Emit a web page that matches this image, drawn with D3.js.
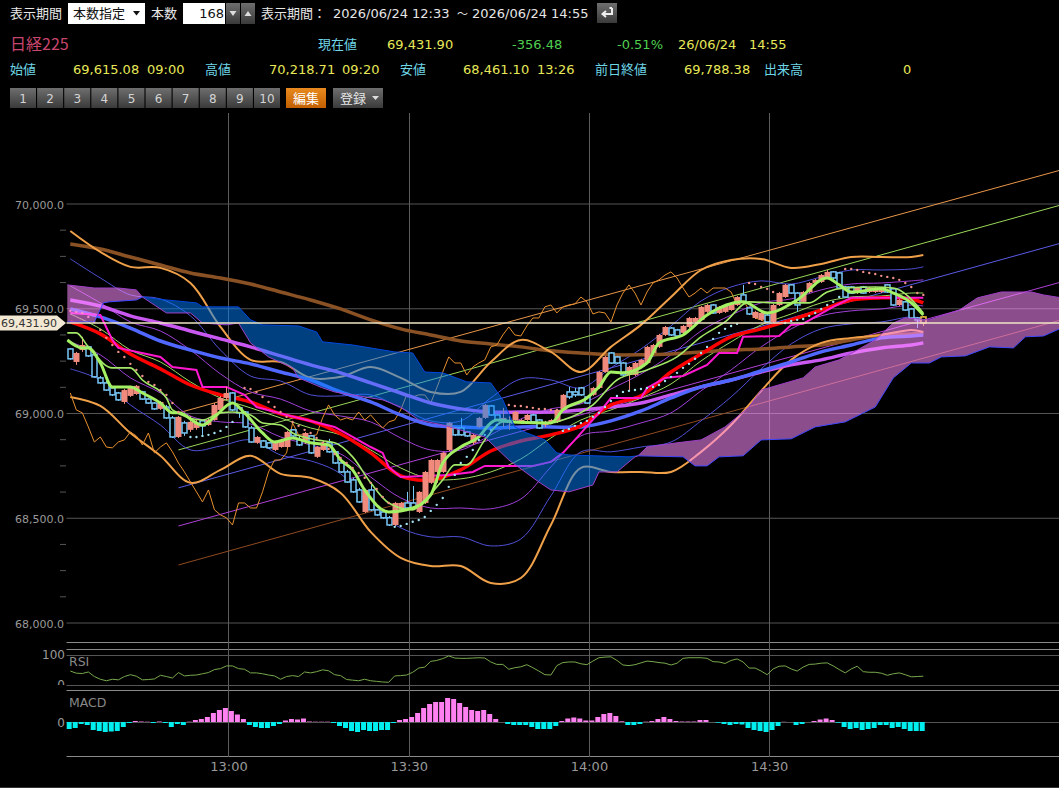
<!DOCTYPE html>
<html>
<head>
<meta charset="utf-8">
<title>日経225</title>
<script src="https://cdn.jsdelivr.net/npm/d3@7/dist/d3.min.js"></script>
<style>
  html, body { margin: 0; padding: 0; background: #000; overflow: hidden; }
  svg { display: block; }
  text { font-family: "DejaVu Sans", "Noto Sans CJK JP", sans-serif; }
  .jp { font-family: "Noto Sans CJK JP", sans-serif; }
</style>
</head>
<body>
<svg id="chart" width="1059" height="788"></svg>
<script>
// 1 minute bars, index 0 = 12:33, index 142 = 14:55
const candleOpen = [69308,69246,69303,69318,69280,69170,69146,69122,69098,69055,69084,69093,69103,69069,69050,69022,69031,68979,68888,68955,68922,68931,68965,68945,68969,69017,69074,69098,69027,69007,68931,68860,68869,68860,68826,68840,68840,68922,68874,68864,68893,68793,68826,68860,68817,68764,68721,68683,68635,68530,68635,68540,68530,68502,68468,68540,68573,68573,68530,68573,68669,68721,68721,68826,68931,68931,68912,68860,68936,68979,69036,68993,68960,68960,68969,68960,68969,68993,68969,68945,68955,68960,69017,69103,69103,69122,69079,69089,69122,69198,69289,69270,69241,69184,69184,69222,69241,69289,69318,69375,69408,69399,69385,69413,69437,69447,69485,69518,69480,69485,69494,69518,69566,69504,69456,69447,69470,69437,69518,69556,69614,69575,69533,69580,69623,69628,69647,69676,69671,69604,69604,69575,69604,69580,69580,69580,69614,69595,69518,69533,69499,69456,69461];
const candleHigh = [69313,69294,69366,69323,69284,69179,69155,69127,69103,69117,69132,69136,69108,69074,69055,69060,69041,68988,68988,68965,68988,68969,68969,68979,69050,69084,69127,69103,69031,69012,68941,68893,68874,68864,68869,68879,68917,68926,68893,68912,68898,68845,68869,68879,68821,68769,68731,68693,68645,68640,68673,68545,68535,68511,68578,68578,68626,68654,68630,68726,68783,68783,68817,68960,68936,68979,68917,68903,68984,69046,69041,68998,69027,68988,69012,68974,68998,68998,68974,68965,68974,69022,69093,69127,69122,69127,69084,69127,69203,69275,69294,69275,69246,69227,69246,69261,69323,69332,69380,69418,69413,69404,69423,69461,69461,69513,69523,69523,69513,69523,69528,69561,69614,69509,69490,69485,69475,69523,69580,69618,69618,69580,69585,69628,69642,69666,69685,69680,69676,69609,69609,69604,69609,69604,69604,69604,69618,69599,69547,69537,69504,69461,69465];
const candleLow = [69256,69232,69294,69270,69170,69141,69108,69084,69060,69046,69079,69089,69065,69046,69017,69017,68974,68883,68883,68893,68912,68922,68898,68941,68965,69012,69065,69012,68979,68931,68860,68855,68836,68831,68821,68836,68836,68883,68845,68855,68807,68788,68821,68812,68759,68716,68669,68621,68573,68525,68535,68511,68497,68463,68463,68530,68540,68540,68525,68568,68664,68669,68716,68821,68893,68893,68888,68850,68931,68974,68988,68965,68936,68922,68965,68950,68965,68950,68926,68936,68950,68955,69012,69069,69079,69084,69046,69084,69117,69194,69237,69237,69179,69112,69179,69218,69237,69280,69313,69370,69370,69366,69380,69408,69432,69442,69480,69475,69475,69480,69490,69513,69528,69470,69451,69442,69432,69432,69513,69552,69571,69485,69528,69575,69618,69623,69642,69642,69595,69552,69571,69571,69571,69575,69575,69575,69575,69513,69513,69490,69451,69408,69418];
const candleClose = [69261,69289,69327,69275,69175,69146,69112,69089,69065,69112,69127,69132,69069,69050,69022,69055,68979,68888,68984,68907,68960,68955,68941,68969,69041,69074,69098,69017,69003,68936,68864,68888,68840,68836,68864,68874,68912,68893,68850,68907,68812,68840,68860,68817,68764,68721,68673,68626,68578,68635,68540,68516,68502,68468,68573,68573,68549,68549,68626,68721,68778,68778,68812,68955,68898,68898,68893,68898,68979,69041,68993,68969,68979,68969,69007,68969,68993,68960,68931,68960,68969,69017,69089,69079,69089,69089,69050,69122,69198,69270,69241,69241,69184,69222,69241,69256,69318,69327,69375,69413,69375,69370,69418,69456,69456,69509,69518,69480,69509,69518,69523,69556,69533,69475,69485,69480,69437,69518,69575,69614,69575,69518,69580,69623,69638,69661,69676,69647,69599,69556,69575,69599,69575,69599,69599,69599,69580,69518,69542,69494,69456,69447,69431.9];

// sampled every 5 minutes
const lineMinutes = [0,5,10,15,20,25,30,35,40,45,50,55,60,65,70,75,80,85,90,95,100,105,110,115,120,125,130,135,140,142];
const bbUpper3 = [69871,69771,69700,69695,69623,69413,69256,69246,69170,69175,69222,69170,69103,69103,69246,69351,69294,69198,69318,69423,69556,69685,69733,69738,69695,69714,69747,69747,69747,69757];
const bbUpper2 = [69738,69647,69566,69547,69466,69303,69179,69155,69089,69084,69089,69027,68965,68965,69074,69165,69160,69122,69218,69308,69418,69537,69604,69633,69618,69652,69685,69685,69690,69700];
const bbUpper1 = [69609,69528,69437,69394,69303,69189,69103,69069,69012,68988,68960,68883,68826,68826,68898,68974,69022,69046,69117,69189,69280,69394,69470,69528,69547,69590,69618,69623,69633,69638];
const bbMiddle = [69475,69404,69303,69246,69151,69074,69027,68979,68931,68898,68826,68740,68688,68688,68721,68783,68883,68969,69017,69074,69141,69251,69342,69423,69475,69528,69556,69561,69575,69575];
const bbLower1 = [69342,69280,69170,69098,68988,68960,68950,68888,68850,68807,68697,68597,68549,68549,68545,68592,68745,68893,68917,68955,69003,69108,69208,69318,69404,69466,69490,69499,69518,69513];
const bbLower2 = [69213,69160,69041,68945,68826,68845,68874,68802,68774,68712,68564,68454,68411,68411,68368,68401,68607,68817,68817,68840,68864,68965,69079,69213,69332,69404,69428,69437,69461,69451];
const bbLower3 = [69079,69036,68907,68798,68669,68731,68798,68712,68693,68621,68435,68311,68272,68272,68191,68215,68468,68740,68721,68721,68721,68817,68945,69108,69256,69337,69361,69375,69399,69389];
const maRed = [69437,69380,69284,69213,69136,69089,69055,68998,68965,68903,68812,68702,68683,68731,68821,68869,68898,68941,69041,69084,69198,69284,69366,69404,69447,69494,69542,69552,69547,69528];
const maOrchid = [69542,69513,69466,69432,69394,69356,69318,69275,69232,69194,69146,69098,69050,69022,69007,69007,69007,69017,69031,69050,69089,69127,69160,69198,69232,69256,69289,69313,69327,69337];
const maBlue = [69499,69461,69408,69346,69303,69265,69237,69198,69160,69103,69055,68993,68945,68936,68931,68936,68936,68936,68965,69012,69074,69127,69160,69203,69246,69294,69327,69361,69370,69375];
const maBrown = [69809,69785,69747,69709,69671,69647,69618,69580,69542,69499,69447,69404,69375,69346,69332,69318,69299,69289,69280,69280,69284,69294,69303,69308,69318,69327,69351,69375,69380,69385];

// the two short averages turn more often, so they are read at their turning points
const maFastMinutes = [-0.5,2,3,5,7,10,12,15,17,18,22,24,27,29,32,34,37,40,43,45,47,49,53,57,60,62,65,68,70,71,74,80,82,86,88,90,92,96,98,102,106,112,116,121,126,128,130,135,137,140,142];
const maFast = [69351,69313,69313,69241,69127,69127,69098,69050,69003,69003,68945,68984,69050,69003,68907,68864,68883,68860,68850,68778,68731,68635,68530,68549,68611,68764,68840,68888,68955,68969,68960,68955,69017,69074,69127,69198,69194,69241,69337,69375,69470,69533,69480,69542,69647,69614,69580,69595,69575,69528,69470];
const maSecondMinutes = [-0.5,1,3,7,10,12,16,17,22,25,27,30,32,35,37,41,44,47,50,53,57,59,62,64,66,69,72,76,80,82,87,91,96,101,105,109,113,118,123,126,129,134,137,142];
const maSecond = [69385,69385,69318,69218,69218,69160,69074,69017,68969,69003,69007,68993,68955,68945,68907,68874,68860,68793,68669,68573,68540,68587,68683,68755,68755,68874,68960,68955,68955,68969,69041,69160,69208,69270,69366,69437,69533,69528,69528,69580,69599,69604,69599,69480];

const kijunMinutes = [0,5,7,8,15,17,21,22,26,29,31,36,44,47,50,52,53,55,63,67,69,77,80,82,84,88,90,95,96,99,102,106,108,111,112,118,120,122,124,127,130,142];
const kijunValues = [69480,69470,69351,69313,69270,69222,69208,69127,69127,69089,69031,68993,68936,68888,68840,68812,68745,68697,68707,68721,68750,68750,68769,68812,68874,69003,69074,69074,69122,69170,69179,69232,69289,69289,69366,69370,69423,69428,69461,69509,69552,69552];

// parabolic runs: first minute, side, values
const sarRuns = [
  [0, 'short', [69490,69485,69480,69461,69437,69399,69361,69327,69294,69270,69237,69208,69179,69151,69136,69112,69089,69050,69007]],
  [20, 'long', [68888,68888,68893,68898,68907,68917,68936,68960]],
  [29, 'short', [69122,69117,69103,69079,69055,69031,69007,68984,68960,68941,68922,68907,68883,68860,68831,68807,68788,68764,68740,68716,68693,68669,68640,68602,68573]],
  [54, 'long', [68459,68463,68473,68483,68492,68506,68535,68564,68597,68650,68707,68764,68793,68826,68874,68898,68922,68945]],
  [73, 'short', [69041,69036,69036,69031,69027,69022,69022,69017,69017]],
  [82, 'long', [68917,68926,68941,68955,68965,68984,69003,69031,69060,69084,69103,69108,69112,69117,69122,69127,69136,69155,69175,69194,69218,69237,69261,69289,69318,69356,69385,69404,69418,69428]],
  [113, 'short', [69623,69618,69604,69595,69580,69566]],
  [119, 'long', [69432,69442,69447,69451,69466,69480,69499,69518,69533,69556]],
  [129, 'short', [69690,69690,69685,69676,69671,69666,69657,69652,69647,69638,69623,69604,69575,69566]]
];

// cloud edges, [minute, price]
const cloudFirstTop = [[-0.5,69614],[4,69599],[8,69599],[11,69590],[12,69556]];
const cloudFirstBottom = [[-0.5,69437],[4,69437],[5.5,69528],[6.5,69533],[11,69542],[12,69556]];
const cloudBlueTop = [[12,69556],[13,69552],[16,69542],[21,69528],[22,69509],[28,69509],[30,69447],[32,69423],[38,69418],[41,69389],[42,69342],[47,69327],[54,69294],[57,69289],[59,69198],[62,69194],[66,69151],[70,69146],[72,69065],[74,68936],[76,68907],[79,68874],[81,68812],[83,68802],[93,68793],[94.5,68798]];
const cloudBlueBottom = [[12,69556],[16,69480],[20,69480],[22,69432],[26,69423],[28,69432],[30,69337],[33,69270],[37,69218],[38,69170],[42,69122],[44,69103],[47,69089],[52,69065],[55,69031],[58,68969],[62,68945],[69,68888],[73,68778],[78,68673],[80,68635],[83,68626],[87,68659],[88,68721],[91,68721],[94,68793],[94.5,68798]];
const cloudLastTop = [[94.5,68798],[96,68840],[101,68860],[105,68874],[109,68936],[113,69031],[115,69112],[122,69170],[124,69222],[128,69256],[131,69303],[134,69351],[137,69432],[139,69456],[143,69447],[148,69494],[151,69552],[155,69580],[160,69580],[162,69566],[165,69552]];
const cloudLastBottom = [[94.5,68798],[102,68793],[104,68750],[106,68750],[108,68793],[112,68798],[115,68874],[120,68879],[124,68936],[129,68960],[134,69031],[137,69170],[140,69241],[143,69241],[145,69270],[149,69275],[153,69318],[157,69313],[159,69366],[162,69370],[165,69408]];

// parallel trend lines from 12:51 forward
const trendMinutes = [18,165];
const trendOrange = [69003,70163];
const trendGreen = [68826,69996];
const trendBlue = [68645,69814];
const trendPurple = [68463,69628];
const trendBrown = [68277,69447];

const rsiValues = [46,39,38,43,28,19,14,19,17,28,34,29,17,18,20,32,28,23,41,30,32,33,37,41,51,54,63,63,54,52,40,40,37,33,30,19,28,31,28,43,40,44,50,47,34,31,18,16,14,19,14,12,10,9,30,31,33,42,56,59,78,81,87,96,89,88,88,89,90,89,76,68,68,52,57,60,67,57,46,34,33,64,74,76,76,70,67,79,90,92,93,81,66,64,67,73,79,77,74,72,66,72,88,90,90,90,88,77,76,71,81,86,76,56,56,46,34,53,62,63,53,46,59,68,69,72,73,63,51,40,53,62,44,42,42,39,32,37,40,34,27,28,29];
const macdHist = [-7,-6,-2,-3,-8,-9,-10,-9.5,-9,-5,-1,1,.5,.3,-1,.5,-1,-5,-2,-3,.3,2,3,5,9,12,14,11,7.5,3,-3,-5,-6,-6,-4,-2,1.5,3,2.5,3.5,.5,.3,.3,.3,-1,-4,-6,-9,-10,-8,-9,-9,-8,-8,-1,2,3,5,9,14,18,20,20,24,23,19,15,12,11,12,8,3,0,-2,-3,-3,-3,-5,-7,-7,-7,-4,1,3.5,4.5,3.5,1.5,1.5,5,8,9,6,.7,-3,-3,-2,.3,1,3,5,3,1,.5,.5,.5,2,2,0,-.7,-2,-3,-2,-2.5,-6,-8,-9,-10,-8,-4,.2,0,-3,-2,0,1,2.5,3.5,2,-.7,-5,-7,-6,-8,-7,-6,-3,-3,-6,-5,-7,-9,-9,-9];

const currentPrice = 69431.90;
const priceTicks = [68000,68500,69000,69500,70000];
const minorTicks = [68125,68250,68375,68625,68750,68875,69125,69250,69375,69625,69750,69875];
const timeTickMinutes = [27,57,87,117];
const timeTickLabels = ['13:00','13:30','14:00','14:30'];
const periodButtons = ['1','2','3','4','5','6','7','8','9','10'];

const svg = d3.select('#chart');
const defs = svg.append('defs');

function addGradient(id, top, bottom) {
  const g = defs.append('linearGradient').attr('id', id).attr('x1', 0).attr('y1', 0).attr('x2', 0).attr('y2', 1);
  g.append('stop').attr('offset', '0%').attr('stop-color', top);
  g.append('stop').attr('offset', '100%').attr('stop-color', bottom);
}
addGradient('btnGrey', '#6e6e6e', '#3a3a3a');
addGradient('btnOrange', '#e88a1e', '#c25f00');

defs.append('clipPath').attr('id', 'mainClip').append('rect').attr('x', 66.5).attr('y', 113).attr('width', 993).attr('height', 528);
defs.append('clipPath').attr('id', 'rsiLabelClip').append('rect').attr('x', 0).attr('y', 640).attr('width', 66).attr('height', 45);

// minute edges; bar m sits in the slot m..m+1
const xEdge = d3.scaleLinear().domain([0, 168]).range([67.3, 1076.5]);
const x = m => xEdge(m + 0.5);
const yPrice = d3.scaleLinear().domain([68000, 70000]).range([623, 204]);
const yRsi = d3.scaleLinear().domain([0, 100]).range([685, 654.7]);
const yMacd = d3.scaleLinear().domain([-34, 33]).range([756, 689]);

// horizontal rules across the panels
const ruleY = [[641.5,'#8a8a8a'],[648.5,'#8a8a8a'],[654.7,'#555'],[685,'#555'],[689.5,'#8a8a8a'],[722,'#555'],[755.5,'#8a8a8a']];
svg.append('g').selectAll('line').data(ruleY).enter().append('line')
  .attr('x1', 66.5).attr('x2', 1059)
  .attr('y1', d => Math.round(d[0]) + 0.5).attr('y2', d => Math.round(d[0]) + 0.5)
  .attr('stroke', d => d[1]);

svg.append('g').selectAll('line').data(priceTicks).enter().append('line')
  .attr('x1', 66.5).attr('x2', 1059)
  .attr('y1', d => yPrice(d)).attr('y2', d => yPrice(d))
  .attr('stroke', '#555');

svg.append('g').selectAll('line').data(timeTickMinutes).enter().append('line')
  .attr('x1', d => Math.round(xEdge(d)) - 0.5).attr('x2', d => Math.round(xEdge(d)) - 0.5)
  .attr('y1', 113).attr('y2', 757)
  .attr('stroke', '#5c5c5c');

// price axis
const priceAxis = d3.axisLeft(yPrice).tickValues(priceTicks).tickSize(0).tickPadding(2).tickFormat(d3.format(',.1f'));
const pa = svg.append('g').attr('transform', 'translate(66,0.5)').call(priceAxis);
pa.select('.domain').remove();
pa.selectAll('text').attr('fill', '#999').style('font-size', '11px');
svg.append('g').selectAll('line').data(minorTicks).enter().append('line')
  .attr('x1', 60).attr('x2', 66)
  .attr('y1', d => yPrice(d)).attr('y2', d => yPrice(d))
  .attr('stroke', '#555');

// time axis
const timeAxis = d3.axisBottom(d3.scaleLinear().domain([0, 168]).range([67.3, 1076.5]))
  .tickValues(timeTickMinutes).tickSize(0).tickPadding(5)
  .tickFormat((d, i) => timeTickLabels[i]);
const ta = svg.append('g').attr('transform', 'translate(-1,757)').call(timeAxis);
ta.select('.domain').remove();
ta.selectAll('text').attr('fill', '#999').style('font-size', '13px');

// main panel
const main = svg.append('g').attr('clip-path', 'url(#mainClip)');
const trendLine = d3.line().x((d, i) => x(trendMinutes[i])).y(d => yPrice(d));
[[trendOrange,'#e8964a'],[trendGreen,'#9ad65a'],[trendBlue,'#5a5ae6'],[trendPurple,'#b040d8'],[trendBrown,'#8f4a20']].forEach(t => {
  main.append('path').attr('d', trendLine(t[0])).attr('fill', 'none').attr('stroke', t[1]).attr('stroke-width', 1);
});

const smooth = d3.line().x((d, i) => x(lineMinutes[i])).y(d => yPrice(d)).curve(d3.curveCatmullRom.alpha(0.5));
function drawSeries(values, color, width) {
  main.append('path').attr('d', smooth(values)).attr('fill', 'none').attr('stroke', color).attr('stroke-width', width).attr('stroke-linejoin', 'round');
}
function drawShortMa(minutes, values, color, width) {
  const l = d3.line().x((d, i) => x(minutes[i])).y(d => yPrice(d)).curve(d3.curveMonotoneX);
  main.append('path').attr('d', l(values)).attr('fill', 'none').attr('stroke', color).attr('stroke-width', width).attr('stroke-linejoin', 'round');
}

drawSeries(bbUpper1, '#a040d8', 1);
drawSeries(bbLower1, '#a040d8', 1);
drawSeries(bbUpper2, '#5050d8', 1);
drawSeries(bbLower2, '#5050d8', 1);
drawSeries(bbMiddle, '#a0dc60', 1);
drawSeries(maBrown, '#8a5224', 3.5);
drawSeries(bbUpper3, '#f0a048', 2);
drawSeries(bbLower3, '#f0a048', 2);

// close shifted back 26 bars
const lagLine = d3.line().x((d, i) => x(i)).y(d => yPrice(d));
main.append('path').attr('d', lagLine(candleClose.slice(26))).attr('fill', 'none').attr('stroke', '#e8902f').attr('stroke-width', 1);

drawSeries(maOrchid, '#c858f0', 3.5);
drawSeries(maBlue, '#5068ff', 3.5);
drawSeries(maRed, '#ff0000', 3.5);

const kijunLine = d3.line().x((d, i) => x(kijunMinutes[i])).y(d => yPrice(d));
main.append('path').attr('d', kijunLine(kijunValues)).attr('fill', 'none').attr('stroke', '#ff18d0').attr('stroke-width', 2);

// candles
const candleIndex = d3.range(candleClose.length);
const isUp = i => candleClose[i] >= candleOpen[i];
const candleColor = i => i === candleClose.length - 1 ? '#f0c040' : (isUp(i) ? '#f08a7c' : '#78c8f8');
const candles = main.append('g');
candles.selectAll('line').data(candleIndex).enter().append('line')
  .attr('x1', i => Math.round(x(i)) + 0.5).attr('x2', i => Math.round(x(i)) + 0.5)
  .attr('y1', i => yPrice(candleHigh[i])).attr('y2', i => yPrice(candleLow[i]))
  .attr('stroke', candleColor);
candles.selectAll('rect').data(candleIndex).enter().append('rect')
  .attr('x', i => Math.round(x(i)) - (isUp(i) ? 2.5 : 2))
  .attr('width', i => isUp(i) ? 6 : 5)
  .attr('y', i => yPrice(Math.max(candleOpen[i], candleClose[i])))
  .attr('height', i => Math.max(1, Math.abs(yPrice(candleOpen[i]) - yPrice(candleClose[i]))))
  .attr('fill', i => isUp(i) ? '#f08a7c' : '#000')
  .attr('stroke', i => isUp(i) ? 'none' : candleColor(i))
  .attr('stroke-width', 1.5);

drawShortMa(maSecondMinutes, maSecond, '#a4e868', 1.6);
drawShortMa(maFastMinutes, maFast, '#a4f064', 3);

// parabolic dots
sarRuns.forEach(run => {
  main.append('g').selectAll('circle').data(run[2]).enter().append('circle')
    .attr('cx', (d, i) => x(run[0] + i))
    .attr('cy', d => yPrice(d))
    .attr('r', 1.2)
    .attr('fill', run[1] === 'short' ? '#f09088' : '#a0e0f0');
});

// cloud goes over everything else in the panel
const edge = d3.line().x(d => x(d[0])).y(d => yPrice(d[1]));
function drawCloud(top, bottom, fill, opacity, topColor, bottomColor) {
  main.append('path').attr('d', edge(top.concat(bottom.slice().reverse())) + 'Z')
    .attr('fill', fill).attr('fill-opacity', opacity);
  main.append('path').attr('d', edge(top)).attr('fill', 'none').attr('stroke', topColor).attr('stroke-width', 1);
  main.append('path').attr('d', edge(bottom)).attr('fill', 'none').attr('stroke', bottomColor).attr('stroke-width', 1);
}
drawCloud(cloudFirstTop, cloudFirstBottom, '#ff8cff', 0.55, '#a040c8', '#4048ff');
drawCloud(cloudBlueTop, cloudBlueBottom, '#0080ff', 0.5, '#0048e0', '#a040c8');
drawCloud(cloudLastTop, cloudLastBottom, '#ff8cff', 0.55, '#a040c8', '#4048ff');

// current price line and tag
main.append('line').attr('x1', 66).attr('x2', 1059)
  .attr('y1', yPrice(currentPrice)).attr('y2', yPrice(currentPrice))
  .attr('stroke', '#efe6c4').attr('stroke-width', 1.5);
const tagY = yPrice(currentPrice);
svg.append('path')
  .attr('d', `M0,${tagY - 7.5}H57L66,${tagY}L57,${tagY + 7.5}H0Z`)
  .attr('fill', '#f2e8d4');
svg.append('text').attr('x', 1).attr('y', tagY + 4).attr('fill', '#333').style('font-size', '11px').text(d3.format(',.2f')(currentPrice));

// RSI
const rsiLine = d3.line().x((d, i) => x(i)).y(d => yRsi(d));
svg.append('path').attr('d', rsiLine(rsiValues)).attr('fill', 'none').attr('stroke', '#78a84c').attr('stroke-width', 1);
svg.append('text').attr('x', 65).attr('y', 659).attr('text-anchor', 'end').attr('fill', '#999').style('font-size', '12px').text('100');
svg.append('g').attr('clip-path', 'url(#rsiLabelClip)').append('text').attr('x', 65).attr('y', 689).attr('text-anchor', 'end').attr('fill', '#999').style('font-size', '12px').text('0');
svg.append('text').attr('x', 69).attr('y', 666).attr('fill', '#888').style('font-size', '12.5px').text('RSI');

// MACD histogram
svg.append('g').selectAll('rect').data(macdHist).enter().append('rect')
  .attr('x', (d, i) => xEdge(i) - 0.6)
  .attr('width', 5)
  .attr('y', d => d >= 0 ? yMacd(d) : yMacd(0))
  .attr('height', d => Math.abs(yMacd(d) - yMacd(0)))
  .attr('fill', d => d >= 0 ? '#ff80f0' : '#00eeee');
svg.append('text').attr('x', 69).attr('y', 707).attr('fill', '#888').style('font-size', '12.5px').text('MACD');
svg.append('text').attr('x', 65).attr('y', 727).attr('text-anchor', 'end').attr('fill', '#999').style('font-size', '12px').text('0');

svg.append('rect').attr('x', 0).attr('y', 787).attr('width', 1059).attr('height', 1).attr('fill', '#333');

// header
const cyan = '#6fd6e6', yellow = '#e8e858', green = '#4fcf50', white = '#e6e6e6';
function label(px, py, str, color, size, jp) {
  svg.append('text').attr('x', px).attr('y', py).attr('fill', color)
    .attr('class', jp ? 'jp' : null)
    .style('font-size', (size || 13) + 'px').text(str);
}

label(10, 18, '表示期間', white, 13, true);
svg.append('rect').attr('x', 68).attr('y', 3).attr('width', 77).attr('height', 21).attr('fill', '#fff');
label(73, 18, '本数指定', '#111', 13, true);
svg.append('path').attr('d', 'M133,11h7l-3.5,4.5Z').attr('fill', '#111');
label(151, 18, '本数', white, 13, true);
svg.append('rect').attr('x', 183).attr('y', 3).attr('width', 42).attr('height', 21).attr('fill', '#fff');
svg.append('text').attr('x', 224).attr('y', 18).attr('text-anchor', 'end').attr('fill', '#111').style('font-size', '13px').text('168');
svg.append('rect').attr('x', 226).attr('y', 3).attr('width', 14).attr('height', 21).attr('fill', 'url(#btnGrey)');
svg.append('rect').attr('x', 241).attr('y', 3).attr('width', 14).attr('height', 21).attr('fill', 'url(#btnGrey)');
svg.append('path').attr('d', 'M229.5,11h7l-3.5,5Z').attr('fill', '#ddd');
svg.append('path').attr('d', 'M244.5,16h7l-3.5,-5Z').attr('fill', '#ddd');
label(261, 18, '表示期間：', white, 13, true);
label(333, 18, '2026/06/24 12:33', white, 13);
label(457, 18, '～', white, 11, true);
label(472, 18, '2026/06/24 14:55', white, 13);
svg.append('rect').attr('x', 597).attr('y', 3).attr('width', 20).attr('height', 20).attr('fill', 'url(#btnGrey)');
svg.append('path').attr('d', 'M612,8h-2.5M612,8v6h-9M606,11l-3.5,3l3.5,3').attr('fill', 'none').attr('stroke', '#eee').attr('stroke-width', 2);

label(10, 50, '日経225', '#c8466e', 16, true);
label(318, 49, '現在値', cyan, 13, true);
label(387, 49, '69,431.90', yellow);
label(512, 49, '-356.48', green);
label(617, 49, '-0.51%', green);
label(678, 49, '26/06/24', yellow);
label(749, 49, '14:55', yellow);

label(10, 74, '始値', cyan, 13, true);
label(73, 74, '69,615.08', yellow);
label(147, 74, '09:00', yellow);
label(205, 74, '高値', cyan, 13, true);
label(269, 74, '70,218.71', yellow);
label(342, 74, '09:20', yellow);
label(400, 74, '安値', cyan, 13, true);
label(463, 74, '68,461.10', yellow);
label(537, 74, '13:26', yellow);
label(595, 74, '前日終値', cyan, 13, true);
label(684, 74, '69,788.38', yellow);
label(764, 74, '出来高', cyan, 13, true);
label(903, 74, '0', yellow);

const buttonX = d3.scaleBand().domain(periodButtons).range([10, 280]).paddingInner(0.04);
svg.append('g').selectAll('rect').data(periodButtons).enter().append('rect')
  .attr('x', d => buttonX(d)).attr('y', 88).attr('width', buttonX.bandwidth()).attr('height', 20)
  .attr('fill', 'url(#btnGrey)');
svg.append('g').selectAll('text').data(periodButtons).enter().append('text')
  .attr('x', d => buttonX(d) + buttonX.bandwidth() / 2).attr('y', 103)
  .attr('text-anchor', 'middle').attr('fill', '#d4d4d4').style('font-size', '12px').text(d => d);
svg.append('rect').attr('x', 286).attr('y', 88).attr('width', 40).attr('height', 20).attr('fill', 'url(#btnOrange)');
label(293, 103, '編集', '#fff', 13, true);
svg.append('rect').attr('x', 333).attr('y', 88).attr('width', 50).attr('height', 20).attr('fill', 'url(#btnGrey)');
label(340, 103, '登録', '#e6e6e6', 13, true);
svg.append('path').attr('d', 'M372,96h7l-3.5,4Z').attr('fill', '#ddd');
</script>
</body>
</html>
